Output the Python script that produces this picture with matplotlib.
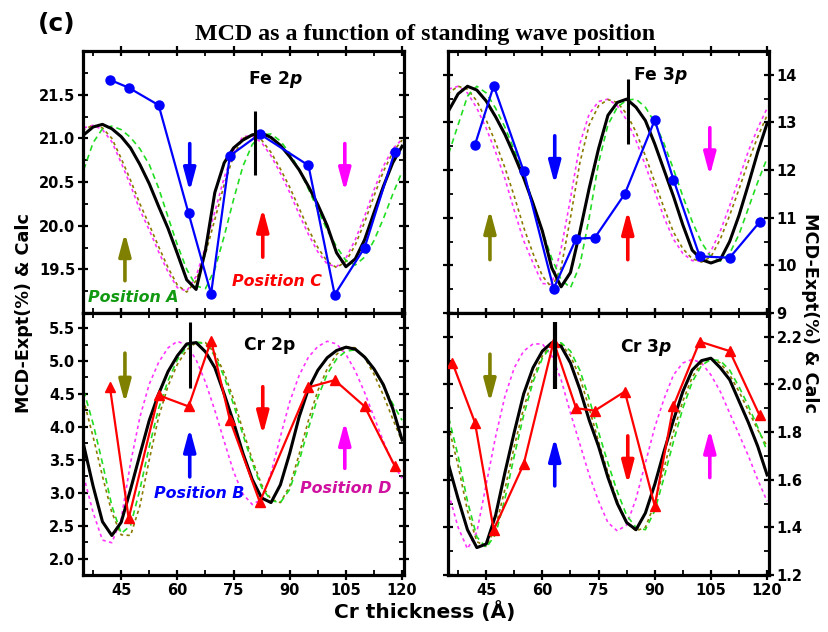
import matplotlib
matplotlib.use("Agg")
import matplotlib.pyplot as plt
from matplotlib.ticker import MultipleLocator, FormatStrFormatter

# ---------------- data ----------------
calc_x = [35, 37.5, 40, 42.5, 45, 47.5, 50, 52.5, 55, 57.5, 60, 62.5, 65, 67.5, 70,
          72.5, 75, 77.5, 80, 82.5, 85, 87.5, 90, 92.5, 95, 97.5, 100, 102.5, 105,
          107.5, 110, 112.5, 115, 117.5, 120]

# Fe 2p
fe2p_x = [42, 47, 55, 63, 69, 74, 82, 95, 102, 110, 118]
fe2p_y = [21.67, 21.58, 21.38, 20.14, 19.22, 20.80, 21.05, 20.69, 19.21, 19.75, 20.84]
fe2p_black = [21.04, 21.13, 21.16, 21.11, 21.02, 20.89, 20.70, 20.48, 20.22, 19.97, 19.68, 19.38,
              19.27, 19.72, 20.38, 20.72, 20.89, 20.98, 21.04, 21.06, 21.01, 20.92, 20.79, 20.64,
              20.45, 20.24, 20.00, 19.69, 19.53, 19.62, 19.84, 20.15, 20.45, 20.72, 20.91]
fe2p_magenta = [21.12, 21.15, 21.10, 20.96, 20.72, 20.46, 20.18, 19.95, 19.70, 19.47, 19.29, 19.25,
                19.42, 19.76, 20.16, 20.55, 20.86, 21.02, 21.03, 20.95, 20.80, 20.60, 20.38, 20.13,
                19.90, 19.70, 19.56, 19.53, 19.63, 19.84, 20.11, 20.41, 20.68, 20.88, 20.99]
fe2p_olive = [21.10, 21.15, 21.12, 21.00, 20.77, 20.52, 20.25, 20.01, 19.76, 19.52, 19.32, 19.24,
              19.37, 19.68, 20.07, 20.47, 20.80, 21.00, 21.04, 20.98, 20.84, 20.65, 20.44, 20.20,
              19.96, 19.75, 19.59, 19.52, 19.59, 19.78, 20.04, 20.34, 20.62, 20.84, 20.98]
fe2p_green = [20.64, 20.95, 21.11, 21.14, 21.10, 21.01, 20.88, 20.70, 20.43, 20.10, 19.78, 19.50,
              19.31, 19.28, 19.50, 19.88, 20.30, 20.68, 20.93, 21.04, 21.05, 20.97, 20.83, 20.64,
              20.42, 20.18, 19.95, 19.76, 19.60, 19.55, 19.64, 19.83, 20.08, 20.36, 20.62]

# Fe 3p
fe3p_x = [42, 47, 55, 63, 69, 74, 82, 90, 95, 102, 110, 118]
fe3p_y = [12.53, 13.77, 11.98, 9.51, 10.56, 10.58, 11.50, 13.05, 11.80, 10.19, 10.16, 10.91]
fe3p_black = [13.25, 13.60, 13.76, 13.68, 13.45, 13.12, 12.75, 12.31, 11.84, 11.30, 10.72, 9.95,
              9.55, 9.85, 10.70, 11.62, 12.45, 13.15, 13.42, 13.49, 13.32, 13.04, 12.55, 12.00,
              11.45, 10.85, 10.32, 10.12, 10.05, 10.12, 10.50, 11.05, 11.70, 12.38, 12.98]
fe3p_magenta = [13.70, 13.76, 13.62, 13.30, 12.88, 12.38, 11.82, 11.15, 10.52, 10.05, 9.62, 9.60,
                10.35, 11.40, 12.55, 13.18, 13.44, 13.49, 13.35, 13.05, 12.62, 12.10, 11.55, 11.00,
                10.55, 10.25, 10.10, 10.09, 10.30, 10.72, 11.25, 11.82, 12.40, 12.88, 13.30]
fe3p_olive = [13.62, 13.76, 13.70, 13.45, 13.05, 12.58, 12.05, 11.45, 10.80, 10.25, 9.78, 9.53,
              9.95, 11.00, 12.15, 12.95, 13.35, 13.48, 13.42, 13.18, 12.80, 12.30, 11.75, 11.20,
              10.70, 10.35, 10.14, 10.07, 10.18, 10.55, 11.05, 11.60, 12.18, 12.70, 13.15]
fe3p_green = [12.35, 12.95, 13.55, 13.76, 13.62, 13.30, 12.90, 12.42, 11.90, 11.32, 10.72, 10.15,
              9.70, 9.53, 10.00, 11.00, 12.15, 12.95, 13.32, 13.47, 13.49, 13.32, 13.00, 12.55,
              12.02, 11.45, 10.92, 10.48, 10.18, 10.09, 10.25, 10.65, 11.20, 11.75, 12.25]

# Cr 2p
cr2p_x = [42, 47, 55, 63, 69, 74, 82, 95, 102, 110, 118]
cr2p_y = [4.60, 2.61, 4.48, 4.31, 5.31, 4.11, 2.86, 4.60, 4.71, 4.31, 3.41]
cr2p_black = [3.72, 3.10, 2.56, 2.35, 2.55, 3.05, 3.58, 4.10, 4.50, 4.84, 5.08, 5.26,
              5.28, 5.14, 4.90, 4.50, 4.07, 3.60, 3.20, 2.92, 2.85, 3.12, 3.60, 4.15,
              4.58, 4.86, 5.05, 5.16, 5.21, 5.18, 5.06, 4.88, 4.64, 4.28, 3.80]
cr2p_magenta = [3.25, 2.70, 2.28, 2.24, 2.60, 3.45, 4.15, 4.65, 4.98, 5.20, 5.30, 5.24,
                5.02, 4.68, 4.25, 3.78, 3.32, 2.98, 2.82, 2.90, 3.30, 3.85, 4.38, 4.78,
                5.06, 5.22, 5.30, 5.26, 5.10, 4.85, 4.52, 4.15, 3.78, 3.45, 3.22]
cr2p_olive = [4.40, 3.85, 3.25, 2.70, 2.36, 2.35, 2.80, 3.50, 4.15, 4.62, 4.95, 5.17,
              5.28, 5.28, 5.12, 4.82, 4.42, 3.95, 3.50, 3.12, 2.90, 2.85, 3.10, 3.58,
              4.10, 4.55, 4.88, 5.10, 5.22, 5.20, 5.05, 4.80, 4.48, 4.12, 3.78]
cr2p_green = [4.55, 4.05, 3.45, 2.80, 2.38, 2.50, 3.05, 3.70, 4.28, 4.70, 5.02, 5.22,
              5.29, 5.26, 5.08, 4.76, 4.34, 3.88, 3.45, 3.08, 2.88, 2.85, 3.05, 3.48,
              3.98, 4.45, 4.80, 5.03, 5.15, 5.17, 5.08, 4.88, 4.62, 4.35, 4.10]

# Cr 3p
cr3p_x = [36, 42, 47, 55, 63, 69, 74, 82, 90, 95, 102, 110, 118]
cr3p_y = [2.09, 1.84, 1.39, 1.665, 2.18, 1.90, 1.89, 1.97, 1.49, 1.91, 2.18, 2.14, 1.87]
cr3p_black = [1.66, 1.52, 1.39, 1.315, 1.33, 1.45, 1.63, 1.80, 1.96, 2.07, 2.14, 2.175,
              2.16, 2.09, 1.98, 1.85, 1.74, 1.61, 1.50, 1.42, 1.39, 1.46, 1.58, 1.72,
              1.85, 1.97, 2.06, 2.10, 2.11, 2.07, 2.02, 1.93, 1.84, 1.74, 1.62]
cr3p_magenta = [1.54, 1.40, 1.31, 1.38, 1.58, 1.78, 1.95, 2.07, 2.14, 2.17, 2.17, 2.12,
                2.02, 1.88, 1.75, 1.62, 1.51, 1.42, 1.385, 1.41, 1.52, 1.67, 1.82, 1.94,
                2.04, 2.09, 2.105, 2.09, 2.04, 1.97, 1.88, 1.79, 1.70, 1.60, 1.51]
cr3p_olive = [1.82, 1.66, 1.47, 1.34, 1.32, 1.40, 1.56, 1.74, 1.90, 2.03, 2.12, 2.17,
              2.17, 2.12, 2.03, 1.90, 1.76, 1.63, 1.51, 1.42, 1.385, 1.40, 1.50, 1.65,
              1.80, 1.93, 2.03, 2.09, 2.11, 2.09, 2.04, 1.97, 1.89, 1.81, 1.74]
cr3p_green = [1.86, 1.70, 1.51, 1.36, 1.315, 1.37, 1.52, 1.70, 1.87, 2.01, 2.11, 2.165,
              2.175, 2.14, 2.06, 1.94, 1.80, 1.67, 1.55, 1.45, 1.40, 1.39, 1.47, 1.61,
              1.76, 1.90, 2.01, 2.08, 2.105, 2.10, 2.06, 1.99, 1.91, 1.82, 1.72]

# arrows (positions A, B, C, D)
arrow_x = [46, 63.3, 82.8, 104.7]
arrow_colors = ['#808000', '#0000ff', '#ff0000', '#ff00ff']
fe2p_arrow_tail = [19.37, 20.94, 19.64, 20.94]
fe2p_arrow_head = [19.92, 20.39, 20.20, 20.39]
fe3p_arrow_tail = [10.12, 12.72, 10.12, 12.89]
fe3p_arrow_head = [11.17, 11.70, 11.15, 11.88]
cr2p_arrow_tail = [5.12, 3.24, 4.61, 3.37]
cr2p_arrow_head = [4.36, 3.98, 3.88, 4.08]
cr3p_arrow_tail = [2.127, 1.574, 1.784, 1.609]
cr3p_arrow_head = [1.924, 1.777, 1.581, 1.812]

# black vertical markers: x, ymin, ymax
fe2p_vline = [80.7, 20.58, 21.31]
fe3p_vline = [82.9, 12.54, 13.91]
cr2p_vline = [63.3, 4.59, 5.60]
cr3p_vline = [63.3, 1.98, 2.26]

# ---------------- figure ----------------
plt.rcParams['font.family'] = ['DejaVu Sans']
plt.rcParams['font.weight'] = 'bold'
plt.rcParams['mathtext.fontset'] = 'dejavusans'
fig = plt.figure(figsize=(8.29, 6.32), dpi=100)

W = 0.3872
H = 0.4146
ax_fe2 = fig.add_axes([0.1001, 0.5047, W, H])
ax_fe3 = fig.add_axes([0.5404, 0.5047, W, H])
ax_cr2 = fig.add_axes([0.1001, 0.0902, W, H])
ax_cr3 = fig.add_axes([0.5404, 0.0902, W, H])

calc_styles = [
    ('magenta', '#ff33ff', (0, (2, 2)), 1.2),
    ('olive', '#8b7a00', (1, (2, 2)), 1.2),
    ('green', '#22dd22', (0, (3.5, 2.5)), 1.2),
]

panels = [
    (ax_fe2, fe2p_x, fe2p_y, [fe2p_magenta, fe2p_olive, fe2p_green], fe2p_black,
     fe2p_arrow_tail, fe2p_arrow_head, fe2p_vline, 'o', '#0000ff', (19.0, 22.0), 0.5, 0.25, 2.2),
    (ax_fe3, fe3p_x, fe3p_y, [fe3p_magenta, fe3p_olive, fe3p_green], fe3p_black,
     fe3p_arrow_tail, fe3p_arrow_head, fe3p_vline, 'o', '#0000ff', (9.0, 14.5), 1.0, 0.5, 2.2),
    (ax_cr2, cr2p_x, cr2p_y, [cr2p_magenta, cr2p_olive, cr2p_green], cr2p_black,
     cr2p_arrow_tail, cr2p_arrow_head, cr2p_vline, '^', '#ff0000', (1.75, 5.73), 0.5, 0.25, 2.2),
    (ax_cr3, cr3p_x, cr3p_y, [cr3p_magenta, cr3p_olive, cr3p_green], cr3p_black,
     cr3p_arrow_tail, cr3p_arrow_head, cr3p_vline, '^', '#ff0000', (1.2, 2.3), 0.2, 0.1, 3.0),
]

for (ax, ex, ey, dashed, black, tails, heads, vline, mk, col, ylim, maj, mnr, vlw) in panels:
    for (name, c, ls, lw), yy in zip(calc_styles, dashed):
        ax.plot(calc_x, yy, color=c, ls=ls, lw=lw, zorder=2)
    ax.plot(calc_x, black, color='black', lw=2.2, zorder=3)
    ax.plot(ex, ey, color=col, lw=1.6, marker=mk, ms=7 if mk == '^' else 6.5,
            mec=col, mfc=col, zorder=5)
    for xa, t, h, c in zip(arrow_x, tails, heads, arrow_colors):
        ax.annotate('', xy=(xa, h), xytext=(xa, t),
                    arrowprops=dict(arrowstyle='-|>,head_length=0.75,head_width=0.2',
                                    color=c, lw=2.6, shrinkA=0, shrinkB=0,
                                    mutation_scale=18), zorder=4)
    ax.plot([vline[0], vline[0]], [vline[1], vline[2]], color='black', lw=vlw,
            solid_capstyle='butt', zorder=6)
    ax.set_xlim(34.8, 120.5)
    ax.set_ylim(*ylim)
    ax.xaxis.set_major_locator(MultipleLocator(15))
    ax.xaxis.set_minor_locator(MultipleLocator(7.5))
    ax.yaxis.set_major_locator(MultipleLocator(maj))
    ax.yaxis.set_minor_locator(MultipleLocator(mnr))
    for s in ax.spines.values():
        s.set_linewidth(2.3)
    ax.tick_params(which='major', direction='inout', length=7, width=1.6,
                   top=True, right=True, left=True, bottom=True, labelsize=10.5, pad=2)
    ax.tick_params(which='minor', direction='in', length=3.5, width=1.3,
                   top=True, right=True, left=True, bottom=True)

# tick label sides
ax_fe2.tick_params(labelbottom=False)
ax_fe3.tick_params(labelbottom=False, labelleft=False, labelright=True)
ax_cr3.tick_params(labelleft=False, labelright=True)
ax_fe2.set_yticks([19.5, 20.0, 20.5, 21.0, 21.5])
ax_cr2.set_yticks([2.0, 2.5, 3.0, 3.5, 4.0, 4.5, 5.0, 5.5])
ax_fe2.yaxis.set_major_formatter(FormatStrFormatter('%.1f'))
ax_cr2.yaxis.set_major_formatter(FormatStrFormatter('%.1f'))
ax_cr3.yaxis.set_major_formatter(FormatStrFormatter('%.1f'))
ax_fe3.yaxis.set_major_formatter(FormatStrFormatter('%d'))
for ax in (ax_fe2, ax_fe3, ax_cr2, ax_cr3):
    for lab in ax.get_xticklabels() + ax.get_yticklabels():
        lab.set_fontweight('bold')

# panel labels
ax_fe2.text(86.3, 21.67, r'Fe 2$\boldsymbol{p}$', ha='center', va='center', fontsize=12.3,
            fontweight='bold')
ax_fe3.text(84.3, 13.98, r'Fe 3$\boldsymbol{p}$', ha='left', va='center', fontsize=12.3,
            fontweight='bold')
ax_cr2.text(84.7, 5.25, 'Cr 2p', ha='center', va='center', fontsize=12.3, fontweight='bold')
ax_cr3.text(80.7, 2.155, r'Cr 3$\boldsymbol{p}$', ha='left', va='center', fontsize=12.3,
            fontweight='bold')

# position labels
ax_fe2.text(48.2, 19.18, 'Position A', color='#119911', ha='center', va='center',
            fontsize=11.4, fontweight='bold', style='italic')
ax_fe2.text(86.5, 19.36, 'Position C', color='#ff0000', ha='center', va='center',
            fontsize=11.4, fontweight='bold', style='italic')
ax_cr2.text(65.9, 2.99, 'Position B', color='#0000ff', ha='center', va='center',
            fontsize=11.4, fontweight='bold', style='italic')
ax_cr2.text(104.9, 3.07, 'Position D', color='#d0109f', ha='center', va='center',
            fontsize=11.4, fontweight='bold', style='italic')

# figure texts
fig.text(0.068, 0.962, '(c)', ha='center', va='center', fontsize=18, fontweight='bold')
fig.text(0.513, 0.946, 'MCD as a function of standing wave position', ha='center',
         va='center', fontsize=17.3, fontweight='bold', family='Liberation Serif')
fig.text(0.029, 0.505, 'MCD-Expt(%) & Calc', rotation=90, ha='center', va='center',
         fontsize=12.7, fontweight='bold')
fig.text(0.977, 0.505, 'MCD-Expt(%) & Calc', rotation=270, ha='center', va='center',
         fontsize=12.7, fontweight='bold')
fig.text(0.512, 0.033, 'Cr thickness (Å)', ha='center', va='center', fontsize=14.5,
         fontweight='bold')

fig.savefig('out.png', dpi=100)
